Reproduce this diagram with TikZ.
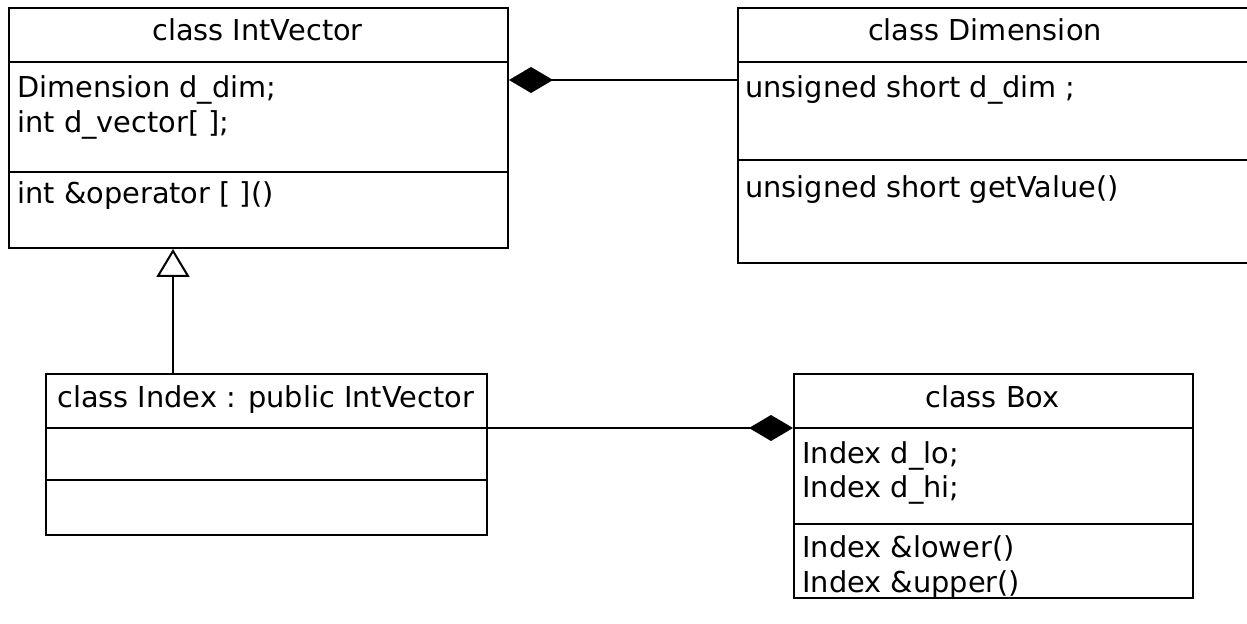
\documentclass[tikz,border=0pt]{standalone}
\usepackage{fontspec}
\setmainfont{DejaVu Sans}
\usetikzlibrary{arrows.meta,positioning}
\begin{document}
\begin{tikzpicture}[x=0.5pt, y=-0.5pt,
        classbox/.style={draw, line width=1pt, anchor=north west, inner sep=0pt},
        ctitle/.style={anchor=base, inner sep=0pt, font=\fontsize{14.4}{17}\selectfont},
        member/.style={anchor=base west, inner sep=0pt, font=\fontsize{14.4}{17}\selectfont},
        compose/.style={line width=1pt, -{Diamond[length=22pt, width=13pt]}},
        inherit/.style={line width=1pt, -{Triangle[open, length=14pt, width=16.5pt, fill=white]}}]
        \useasboundingbox (0,0) rectangle (1247,624);

        % class IntVector
        \node[classbox, minimum width=249.5pt, minimum height=120pt] (iv) at (8,7) {};
        \draw[line width=1pt] (iv.west |- 0,62) -- (iv.east |- 0,62);
        \draw[line width=1pt] (iv.west |- 0,172) -- (iv.east |- 0,172);
        \node[ctitle] (ivname) at (257.5,41) {class IntVector};
        \node[member] (ivdim) at (17,98) {Dimension d\_dim;};
        \node[member] (ivvec) at (17,133) {int d\_vector[ ];};
        \node[member] (ivop) at (17,204) {int \&operator [ ]()};

        % class Dimension (runs off the right edge)
        \node[classbox, minimum width=257.5pt, minimum height=127.5pt] (dim) at (737,7) {};
        \draw[line width=1pt] (dim.west |- 0,62) -- (dim.east |- 0,62);
        \draw[line width=1pt] (dim.west |- 0,160) -- (dim.east |- 0,160);
        \node[ctitle] (dimname) at (985,41) {class Dimension};
        \node[member] (dimval) at (745,98) {unsigned short d\_dim ;};
        \node[member] (dimget) at (745,198) {unsigned short getValue()};

        % class Index
        \node[classbox, minimum width=220.5pt, minimum height=80.5pt] (idx) at (45,373) {};
        \draw[line width=1pt] (idx.west |- 0,428) -- (idx.east |- 0,428);
        \draw[line width=1pt] (idx.west |- 0,480) -- (idx.east |- 0,480);
        \node[ctitle] (idxname) at (265.5,408) {class Index : public IntVector};

        % class Box
        \node[classbox, minimum width=199.5pt, minimum height=112pt] (bx) at (793,373) {};
        \draw[line width=1pt] (bx.west |- 0,428) -- (bx.east |- 0,428);
        \draw[line width=1pt] (bx.west |- 0,524) -- (bx.east |- 0,524);
        \node[ctitle] (bxname) at (992.5,408) {class Box};
        \node[member] (bxlo) at (802,464) {Index d\_lo;};
        \node[member] (bxhi) at (802,498) {Index d\_hi;};
        \node[member] (bxlower) at (802,558) {Index \&lower()};
        \node[member] (bxupper) at (802,592) {Index \&upper()};

        % relations
        \coordinate (dimjoin) at (737,80);
        \draw[compose] (dimjoin) -- (iv.east |- dimjoin);
        \coordinate (idxjoin) at (173,373);
        \draw[inherit] (idxjoin) -- (iv.south -| idxjoin);
        \coordinate (idxright) at (idx.east |- 0,428);
        \draw[compose] (idxright) -- (bx.west |- idxright);
    \end{tikzpicture}
\end{document}
